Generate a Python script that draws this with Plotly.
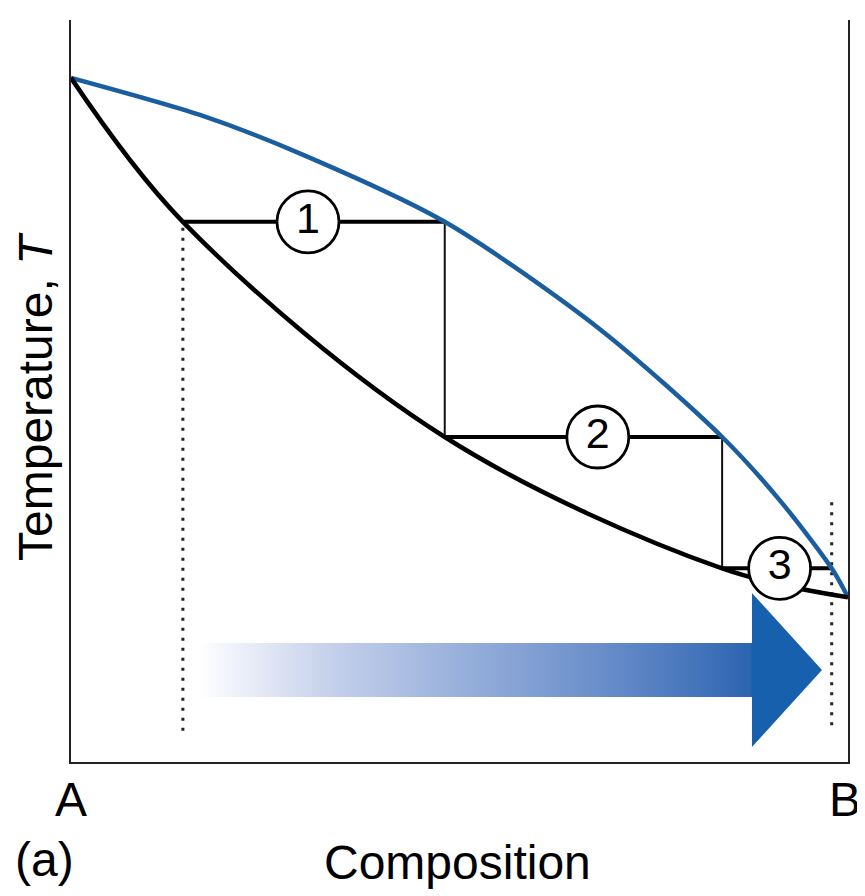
import plotly.graph_objects as go

# Phase diagram data (composition 0=A .. 1=B, temperature normalised 0..1)
comp_liquid = [0.0, 0.144, 0.481, 0.838, 1.0]
temp_liquid = [0.922, 0.728, 0.438, 0.261, 0.222]

comp_vapor = [0.0, 0.166, 0.295, 0.481, 0.681, 0.838, 0.912, 0.979, 1.0]
temp_vapor = [0.922, 0.872, 0.820, 0.728, 0.583, 0.438, 0.353, 0.261, 0.222]

# distillation steps: horizontal tie lines (liquid -> vapour composition at T)
tie_x0 = [0.144, 0.481, 0.838]
tie_x1 = [0.481, 0.838, 0.979]
tie_T = [0.728, 0.438, 0.261]
step_labels = ["1", "2", "3"]
label_x = [0.305, 0.678, 0.912]

# dotted composition markers
dot_x = [0.144, 0.979]
dot_top = [0.720, 0.350]
dot_bottom = [0.040, 0.046]

# enrichment arrow outline
arrow_x = [0.1634, 0.8764, 0.8764, 0.9665, 0.8764, 0.8764, 0.1634, 0.1634]
arrow_y = [0.1604, 0.1604, 0.2278, 0.124, 0.0202, 0.0876, 0.0876, 0.1604]

BLUE = "#1b5e9f"
FONT = "Liberation Sans, Arial, Helvetica, sans-serif"

fig = go.Figure()

# arrow with horizontal gradient
fig.add_trace(go.Scatter(
    x=arrow_x, y=arrow_y, mode="none", fill="toself",
    fillgradient=dict(type="horizontal", colorscale=[
        [0.0, "#ffffff"], [0.06, "#eef1f9"], [0.22, "#c3cfea"], [0.42, "#98b0db"],
        [0.62, "#6f92cc"], [0.78, "#4a78bd"], [0.886, "#2b64b0"],
        [0.888, "#1660ad"], [1.0, "#1660ad"]]),
    hoverinfo="skip", showlegend=False))

# dotted lines
for xv, t0, t1 in zip(dot_x, dot_top, dot_bottom):
    fig.add_trace(go.Scatter(x=[xv, xv], y=[t0, t1], mode="lines",
                             line=dict(color="#222222", width=3, dash="3px,7px"),
                             showlegend=False, hoverinfo="skip"))

# vertical connectors (thin)
for i in range(len(tie_T) - 1):
    fig.add_trace(go.Scatter(x=[tie_x1[i], tie_x1[i]], y=[tie_T[i], tie_T[i + 1]],
                             mode="lines", line=dict(color="#111111", width=2),
                             showlegend=False, hoverinfo="skip"))

# horizontal tie lines
for a, b, t in zip(tie_x0, tie_x1, tie_T):
    fig.add_trace(go.Scatter(x=[a, b], y=[t, t], mode="lines",
                             line=dict(color="#000000", width=4),
                             showlegend=False, hoverinfo="skip"))

# curves
fig.add_trace(go.Scatter(x=comp_vapor, y=temp_vapor, mode="lines",
                         line=dict(color=BLUE, width=4.5, shape="spline", smoothing=0.8),
                         showlegend=False, hoverinfo="skip"))
fig.add_trace(go.Scatter(x=comp_liquid, y=temp_liquid, mode="lines",
                         line=dict(color="#000000", width=4.5, shape="spline", smoothing=1.0),
                         showlegend=False, hoverinfo="skip"))

# numbered circles
fig.add_trace(go.Scatter(x=label_x, y=tie_T, mode="markers+text", text=step_labels,
                         textposition="middle center",
                         textfont=dict(family=FONT, size=43, color="#000000"),
                         marker=dict(size=62, color="white", line=dict(color="#000000", width=2.8)),
                         showlegend=False, hoverinfo="skip", cliponaxis=False))

fig.update_xaxes(range=[0, 1], showgrid=False, zeroline=False, showticklabels=False,
                 ticks="", showline=True, linecolor="#222222", linewidth=2)
fig.update_yaxes(range=[0, 1], showgrid=False, zeroline=False, showticklabels=False,
                 ticks="", showline=True, mirror=True, linecolor="#222222", linewidth=2)

annotations = [
    dict(x=0.0, y=-0.051, text="A"),
    dict(x=0.996, y=-0.051, text="B"),
    dict(x=-0.034, y=-0.132, text="(a)"),
    dict(x=0.497, y=-0.135, text="Composition"),
]
for a in annotations:
    fig.add_annotation(x=a["x"], y=a["y"], xref="paper", yref="paper", text=a["text"],
                       showarrow=False, font=dict(family=FONT, size=48, color="#000000"),
                       xanchor="center", yanchor="middle")
fig.add_annotation(x=-0.045, y=0.492, xref="paper", yref="paper", text="Temperature, <i>T</i>",
                   textangle=-90, showarrow=False,
                   font=dict(family=FONT, size=48, color="#000000"),
                   xanchor="center", yanchor="middle")

# page has an 8px body margin, so the figure is sized to fit the 865x896 window
fig.update_layout(width=857, height=888, margin=dict(l=63, r=17, t=12, b=134),
                  plot_bgcolor="white", paper_bgcolor="white")

fig.write_html("out.html")
